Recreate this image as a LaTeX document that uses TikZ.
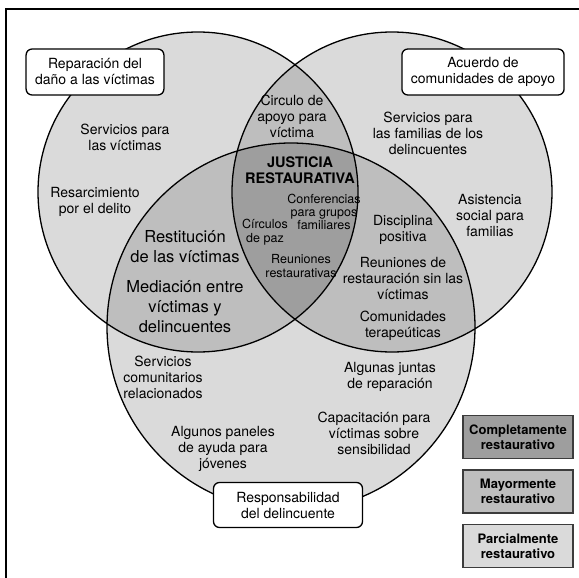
\documentclass[tikz,border=0pt]{standalone}
\usepackage{fontspec}
\setmainfont{TeX Gyre Heros}
\usetikzlibrary{positioning}
\definecolor{gray1}{RGB}{218,218,218}
\definecolor{gray2}{RGB}{190,190,190}
\definecolor{gray3}{RGB}{158,158,158}
\definecolor{edge1}{RGB}{60,60,60}

\begin{document}
\begin{tikzpicture}[x=1pt, y=-1pt,
  txt/.style={align=center, inner sep=0pt, font=\fontsize{14}{16}\selectfont},
  bigtxt/.style={align=center, inner sep=0pt, font=\fontsize{16.5}{20}\selectfont},
  smalltxt/.style={align=center, inner sep=0pt, font=\fontsize{12.5}{13.4}\selectfont},
  labelbox/.style={draw, fill=white, line width=1.3pt, rounded corners=6pt, align=center,
    inner xsep=9pt, minimum height=46pt, font=\fontsize{14}{16}\selectfont},
  legendbox/.style={draw=edge1, line width=1.4pt, align=center, minimum width=110pt,
    minimum height=43pt, inner sep=0pt, font=\bfseries\fontsize{13}{15}\selectfont}]
  \useasboundingbox (0,0) rectangle (579,578);
  % circles
  \coordinate (cL) at (198,192);
  \coordinate (cR) at (392,192);
  \coordinate (cB) at (291,327);
  \fill[gray1] (cL) circle (160) (cR) circle (160) (cB) circle (184);
  \begin{scope}
    \clip (cL) circle (160);
    \fill[gray2] (cR) circle (160) (cB) circle (184);
  \end{scope}
  \begin{scope}
    \clip (cR) circle (160);
    \fill[gray2] (cB) circle (184);
  \end{scope}
  \begin{scope}
    \clip (cL) circle (160);
    \clip (cR) circle (160);
    \fill[gray3] (cB) circle (184);
  \end{scope}
  \draw[line width=1.3pt] (cL) circle (160) (cR) circle (160) (cB) circle (184);
  % frame
  \draw[line width=2pt] (579,9) -- (6,9) -- (6,578);

  % labels of the three circles
  \node[labelbox] (repar) at (95,72) {Reparación del\\daño a las víctimas};
  \node[labelbox] (acuerdo) at (483,72) {Acuerdo de\\comunidades de apoyo};
  \node[labelbox, minimum width=149pt, minimum height=45pt] (respons) at (288,505)
    {Responsabilidad\\del delincuente};

  % left circle
  \node[txt] (servvict) at (125,137) {Servicios para\\las víctimas};
  \node[txt] (resarc) at (95,202) {Resarcimiento\\por el delito};
  % right circle
  \node[txt] (servfam) at (428,133) {Servicios para\\las familias de los\\delincuentes};
  \node[txt] (asist) at (490,216) {Asistencia\\social para\\familias};
  % bottom circle
  \node[txt] (servcom) at (163,377) {Servicios\\comunitarios\\relacionados};
  \node[txt] (paneles) at (223,449) {Algunos paneles\\de ayuda para\\jóvenes};
  \node[txt] (juntas) at (390,377) {Algunas juntas\\de reparación};
  \node[txt] (capac) at (374,433) {Capacitación para\\víctimas sobre\\sensibilidad};

  % two circles
  \node[txt] (apoyo) at (292,116) {Circulo de\\apoyo para\\víctima};
  \node[bigtxt] (restit) at (185,247) {Restitución\\de las víctimas};
  \node[bigtxt] (mediac) at (185,307) {Mediación entre\\víctimas y\\delincuentes};
  \node[txt] (discip) at (403,230) {Disciplina\\positiva};
  \node[txt] (reunsin) at (403,279) {Reuniones de\\restauración sin las\\víctimas};
  \node[txt] (comun) at (403,326) {Comunidades\\terapeúticas};

  % center
  \node[align=center, inner sep=0pt, font=\bfseries\fontsize{14.5}{15.7}\selectfont]
    (justicia) at (300,170) {JUSTICIA\\RESTAURATIVA};
  \node[smalltxt] (confer) at (324,212) {Conferencias\\para grupos\\familiares};
  \node[smalltxt] (circpaz) at (265,232) {Círculos\\de paz};
  \node[smalltxt] (reunrest) at (301,266) {Reuniones\\restaurativas};

  % legend
  \node[legendbox, fill=gray3] (compl) at (518,437) {Completamente\\restaurativo};
  \node[legendbox, fill=gray2, below=10pt of compl] (mayor) {Mayormente\\restaurativo};
  \node[legendbox, fill=gray1, below=10pt of mayor] (parc) {Parcialmente\\restaurativo};
\end{tikzpicture}
\end{document}
